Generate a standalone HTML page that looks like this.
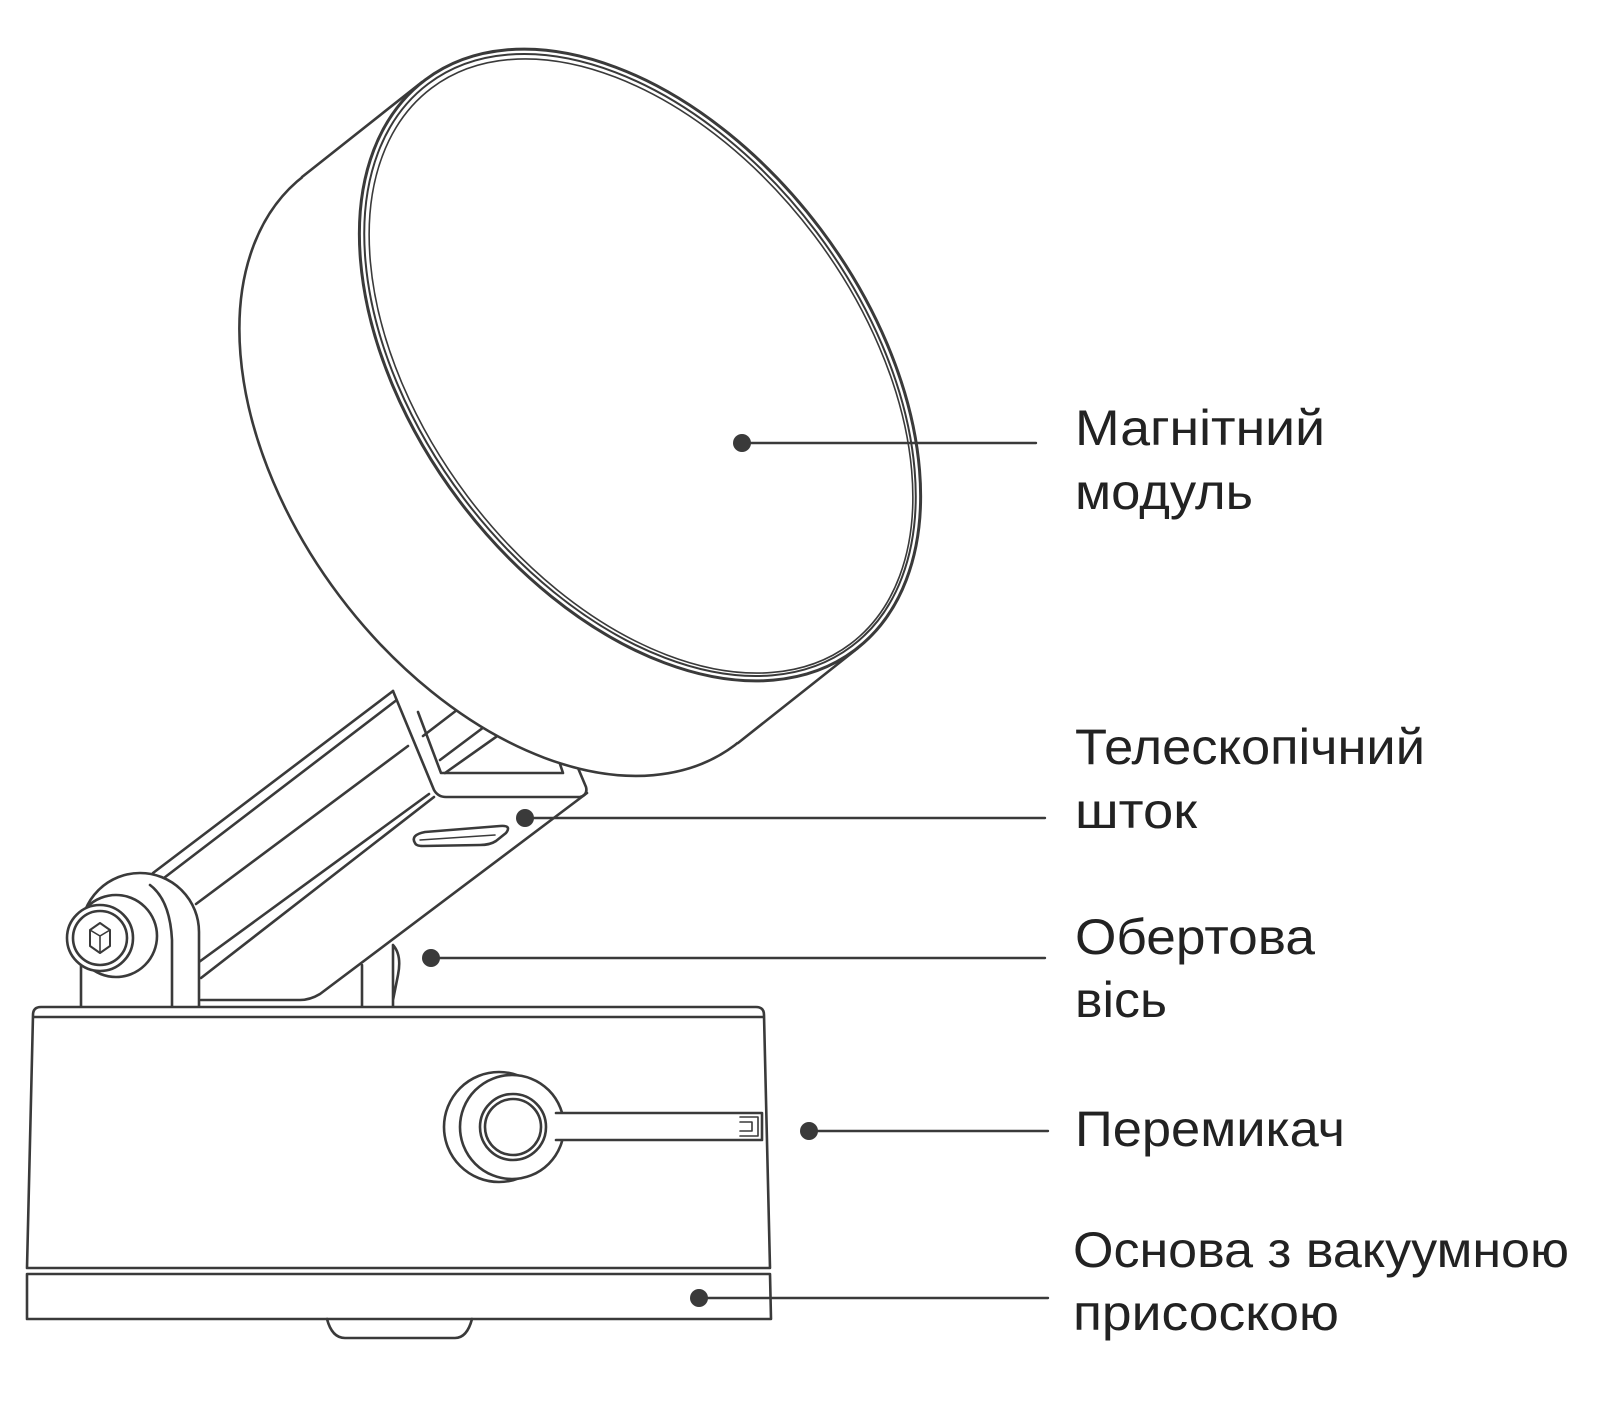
<!DOCTYPE html>
<html><head><meta charset="utf-8"><style>
html,body{margin:0;padding:0;background:#fff;}
svg{display:block;}
text{font-family:"Liberation Sans","DejaVu Sans",sans-serif;font-size:50px;fill:#222;}
</style></head><body>
<svg width="1600" height="1402" viewBox="0 0 1600 1402" xmlns="http://www.w3.org/2000/svg">
<g fill="none" stroke="#3a3a3a" stroke-width="2.6" stroke-linejoin="round" stroke-linecap="round">
<!-- arm bar -->
<path d="M153,873 L393,691" />
<path d="M160,881 L398,699" />
<path d="M196,904 L408,746" />
<path d="M199,962 L429,794" />
<path d="M201,978 L434,797" />
<path d="M201,1000 L300,1000 Q310,1000 320,994 L587,793" />
<path d="M393,691 L434,790 Q438,797 446,797 L580,797 Q588,795 586,787 L578,768" fill="#fff"/>
<path d="M418,712 L441,773 L563,773 L560,764" />
<path d="M423,736 L470,700 M440,760 L500,715 M445,773 L520,720" />
<path d="M415,843 Q410,835 425,832 L500,826 Q512,825 506,833 L496,841 Q490,845 480,845 L423,846 Q416,846 415,843 Z" />
<path d="M420,840 L495,835" stroke-width="1.5"/>
<!-- axis post -->
<path d="M362,965 L362,1007 M393,945 L393,1007 M393,945 Q402,955 398,975 Q395,990 393,1000" />
<!-- bracket -->
<path d="M81,1007 L81,932 A59,59 0 0 1 199,932 L199,1007" fill="#fff"/>
<path d="M172,1007 L172,940 Q170,900 150,885" />
<circle cx="116" cy="936" r="41" fill="#fff"/>
<circle cx="100" cy="938" r="33" fill="#fff"/>
<circle cx="100" cy="938" r="27" />
<path d="M100,923 L110,930 L110,946 L100,953 L90,946 L90,930 Z" stroke-width="2"/>
<path d="M90,930 L100,936 L110,930 M100,936 L100,953" stroke-width="1.6"/>
<!-- disk back -->
<ellipse cx="520" cy="460" rx="226" ry="357" transform="rotate(-37 520 460)" fill="#fff"/>
<polygon points="422,82 302,177 738,743 858,648" fill="#fff" stroke="none"/>
<path d="M422,82 L302,177 M858,648 L738,743" />
<!-- disk front -->
<ellipse cx="640" cy="365" rx="226" ry="357" transform="rotate(-37 640 365)" fill="#fff" stroke-width="3"/>
<ellipse cx="640" cy="365" rx="221" ry="352" transform="rotate(-37 640 365)" stroke-width="2"/>
<ellipse cx="641" cy="366" rx="217" ry="348" transform="rotate(-37 641 366)" stroke-width="1.6"/>
<!-- base -->
<path d="M33,1015 Q33,1007 41,1007 L756,1007 Q764,1007 764,1015 L770,1268 L27,1268 Z" fill="#fff"/>
<path d="M34,1017 L763,1017" />
<path d="M27,1274 L770,1274 L771,1319 L27,1319 Z" fill="#fff"/>
<path d="M327,1319 Q332,1338 345,1338 L455,1338 Q467,1338 472,1319" />
<!-- knob -->
<circle cx="499" cy="1127" r="55" fill="#fff"/>
<circle cx="512" cy="1127" r="52" fill="#fff"/>
<path d="M556,1113 L762,1113 L762,1140 L556,1140" fill="#fff"/>
<path d="M740,1117 L758,1117 L758,1136 L740,1136 M740,1122 L752,1122 L752,1131 L740,1131" stroke-width="1.6"/>
<circle cx="513" cy="1127" r="33"/>
<circle cx="513" cy="1127" r="28"/>
<!-- leaders -->
<path d="M742,443 L1036,443 M525,818 L1045,818 M430,958 L1045,958 M808,1131 L1048,1131 M698,1298 L1048,1298" stroke-width="2.4"/>
</g>
<g fill="#3a3a3a">
<circle cx="742" cy="443" r="9"/>
<circle cx="525" cy="818" r="9"/>
<circle cx="431" cy="958" r="9"/>
<circle cx="809" cy="1131" r="9"/>
<circle cx="699" cy="1298" r="9"/>
</g>
<text x="1075" y="445" textLength="250" lengthAdjust="spacingAndGlyphs">Магнітний</text>
<text x="1075" y="509" textLength="178" lengthAdjust="spacingAndGlyphs">модуль</text>
<text x="1075" y="764" textLength="350" lengthAdjust="spacingAndGlyphs">Телескопічний</text>
<text x="1075" y="828" textLength="122" lengthAdjust="spacingAndGlyphs">шток</text>
<text x="1075" y="954" textLength="240" lengthAdjust="spacingAndGlyphs">Обертова</text>
<text x="1075" y="1017" textLength="92" lengthAdjust="spacingAndGlyphs">вісь</text>
<text x="1075" y="1146" textLength="270" lengthAdjust="spacingAndGlyphs">Перемикач</text>
<text x="1073" y="1267" textLength="496" lengthAdjust="spacingAndGlyphs">Основа з вакуумною</text>
<text x="1073" y="1330" textLength="266" lengthAdjust="spacingAndGlyphs">присоскою</text>
</svg>
</body></html>
